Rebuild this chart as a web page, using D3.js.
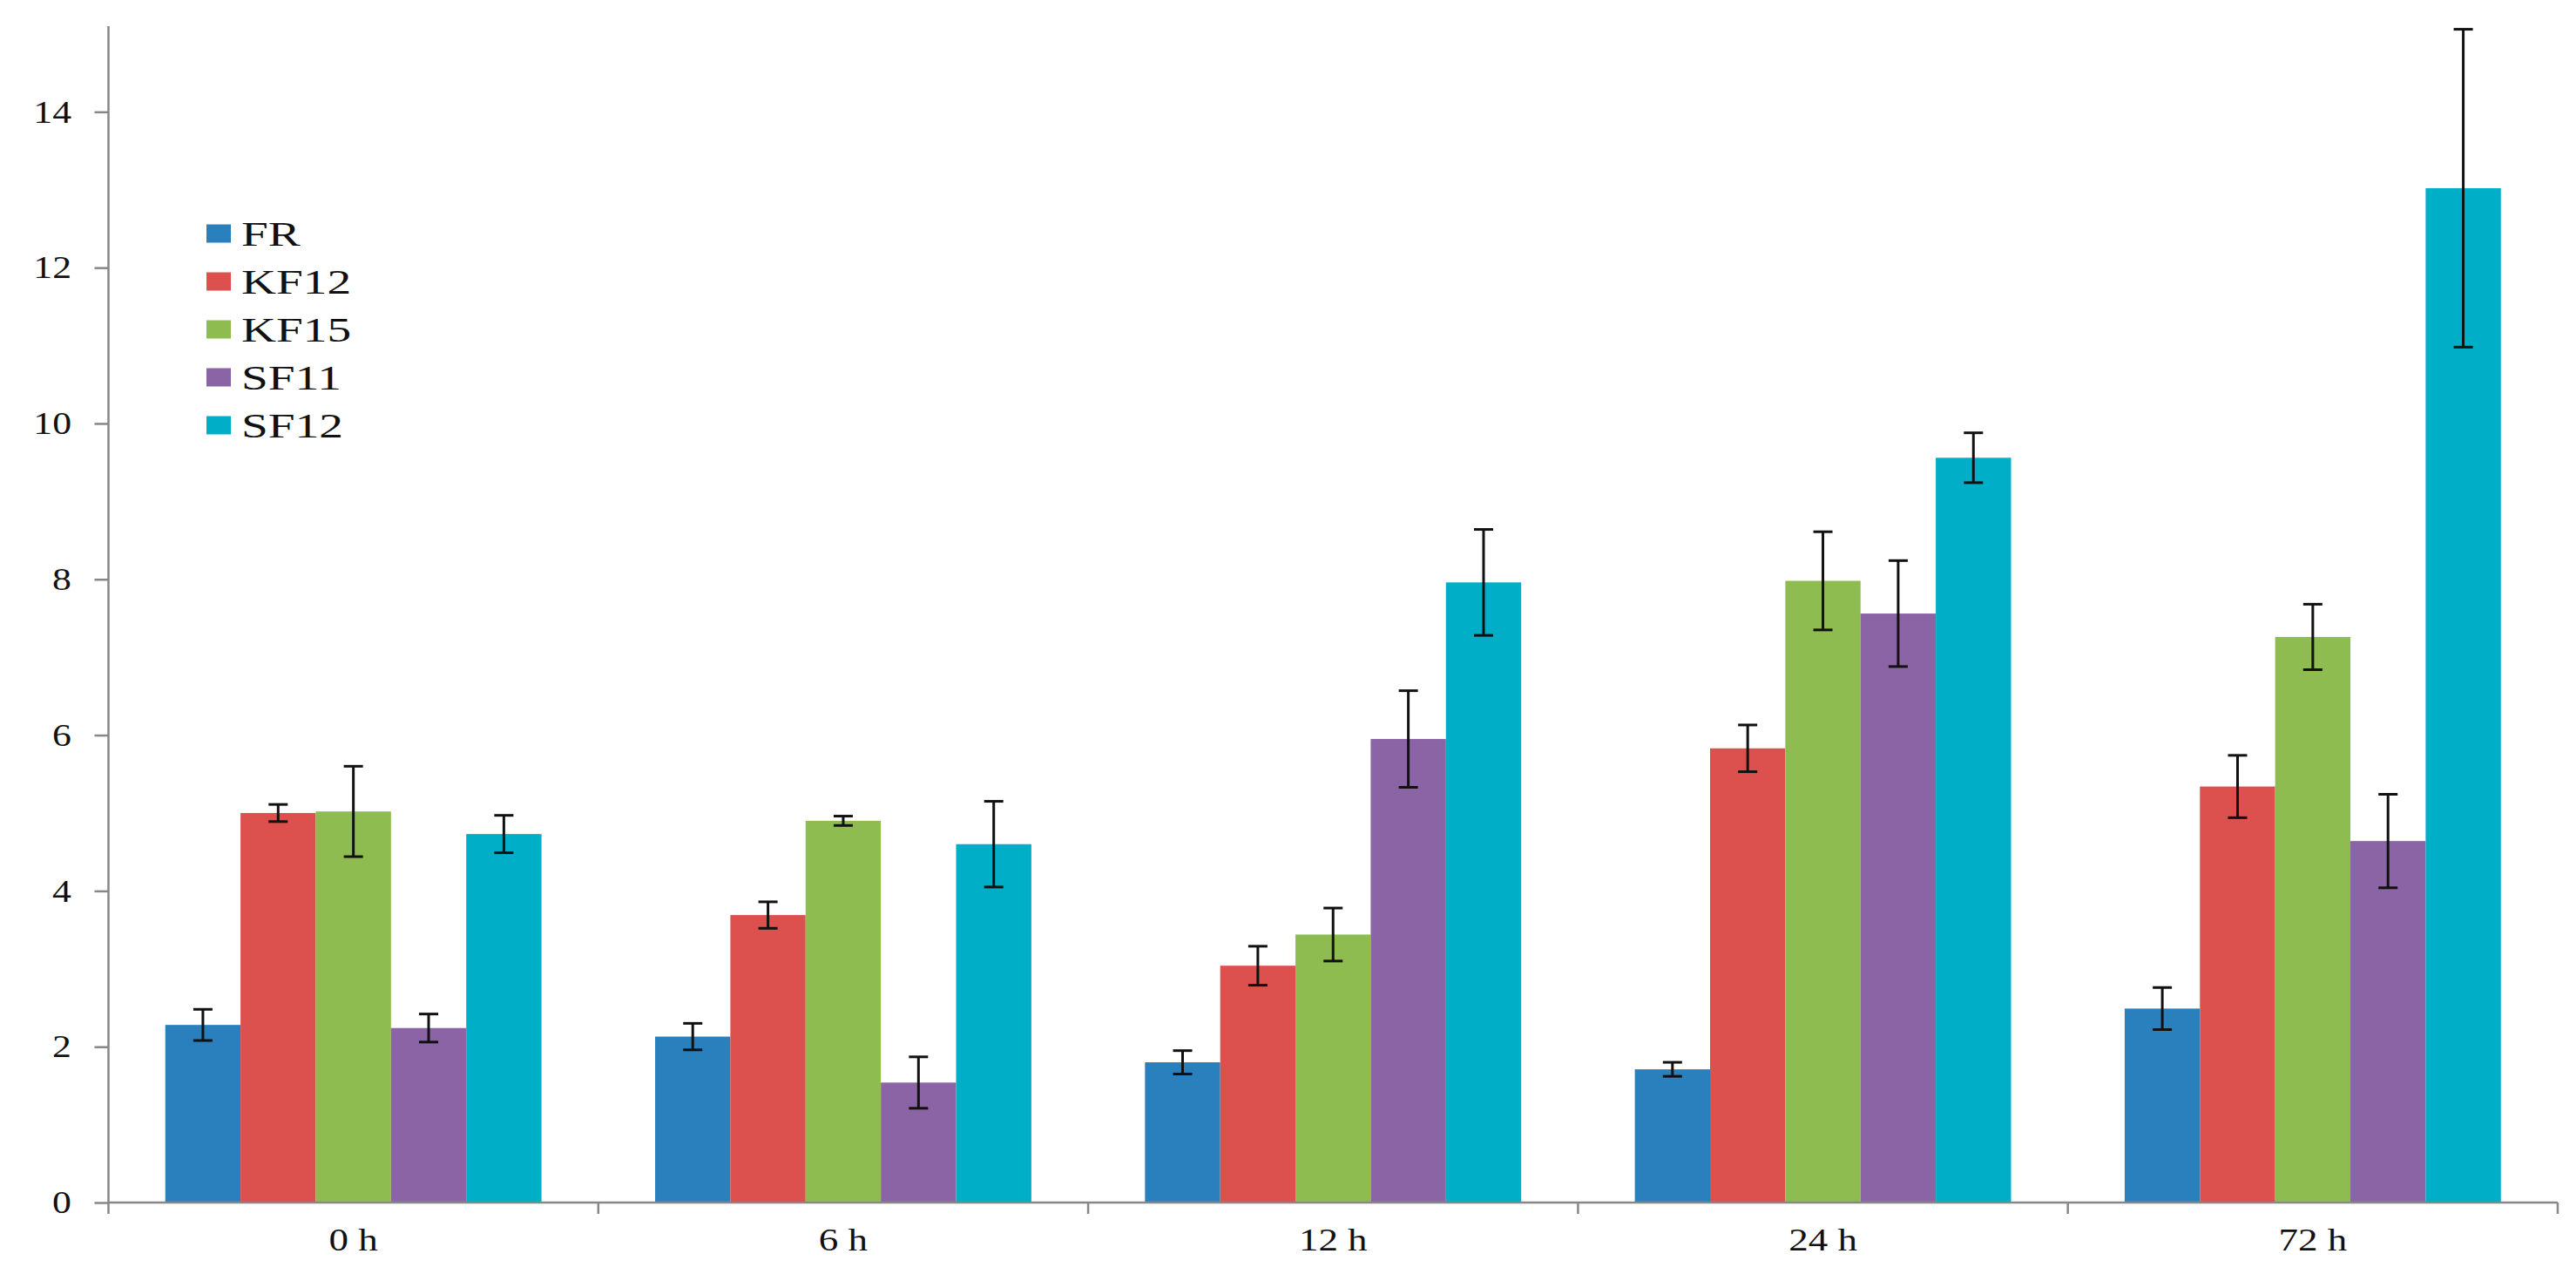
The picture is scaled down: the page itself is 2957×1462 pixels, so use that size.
<!DOCTYPE html>
<html><head><meta charset="utf-8">
<script src="https://cdn.jsdelivr.net/npm/d3@7"></script>
<style>html,body{margin:0;padding:0;background:#fff;}svg{display:block;}</style>
</head><body>
<script>
const categories = ["0 h", "6 h", "12 h", "24 h", "72 h"];
const seriesNames = ["FR", "KF12", "KF15", "SF11", "SF12"];
const seriesColors = ["#2a7fbd", "#dc504e", "#8fbc50", "#8a64a5", "#00aec7"];
const FR   = [2.28, 2.13, 1.80, 1.71, 2.49];
const KF12 = [5.00, 3.69, 3.04, 5.83, 5.34];
const KF15 = [5.02, 4.90, 3.44, 7.98, 7.26];
const SF11 = [2.24, 1.54, 5.95, 7.56, 4.64];
const SF12 = [4.73, 4.60, 7.96, 9.56, 13.02];
const FR_err   = [0.20, 0.17, 0.15, 0.09, 0.27];
const KF12_err = [0.11, 0.17, 0.25, 0.30, 0.40];
const KF15_err = [0.58, 0.06, 0.34, 0.63, 0.42];
const SF11_err = [0.18, 0.33, 0.62, 0.68, 0.60];
const SF12_err = [0.24, 0.55, 0.68, 0.32, 2.04];
const yTicks = [0, 2, 4, 6, 8, 10, 12, 14];

const values = [FR, KF12, KF15, SF11, SF12];
const errors = [FR_err, KF12_err, KF15_err, SF11_err, SF12_err];

const W = 2957, H = 1462;
const left = 124.5, right = 2936, zeroY = 1380, topY = 30;
const svg = d3.select("body").append("svg").attr("width", W).attr("height", H);

const x0 = d3.scaleBand().domain(categories).range([left, right]).padding(0);
const gap = x0.bandwidth() * 0.116;
const x1 = d3.scaleBand().domain(seriesNames).range([gap, x0.bandwidth() - gap]).padding(0);
const y = d3.scaleLinear().domain([0, 15.1]).range([zeroY, topY]);

const rows = [];
categories.forEach((c, ci) => seriesNames.forEach((s, si) => rows.push({c, s, si, v: values[si][ci], e: errors[si][ci]})));

// bars
svg.append("g").selectAll("rect").data(rows).join("rect")
  .attr("x", d => x0(d.c) + x1(d.s))
  .attr("y", d => y(d.v))
  .attr("width", x1.bandwidth())
  .attr("height", d => y(0) - y(d.v))
  .attr("fill", d => seriesColors[d.si]);

// error bars
const eg = svg.append("g").attr("stroke", "#111").attr("stroke-width", 3);
rows.forEach(d => {
  const cx = x0(d.c) + x1(d.s) + x1.bandwidth() / 2;
  eg.append("line").attr("x1", cx).attr("x2", cx).attr("y1", y(d.v + d.e)).attr("y2", y(d.v - d.e));
  eg.append("line").attr("x1", cx - 11).attr("x2", cx + 11).attr("y1", y(d.v + d.e)).attr("y2", y(d.v + d.e));
  eg.append("line").attr("x1", cx - 11).attr("x2", cx + 11).attr("y1", y(d.v - d.e)).attr("y2", y(d.v - d.e));
});

const axisColor = "#878787";
// y axis
const yAxis = svg.append("g").attr("transform", `translate(${left},0)`)
  .call(d3.axisLeft(y).tickValues(yTicks).tickSize(16).tickFormat(""));
yAxis.select(".domain").attr("stroke", axisColor).attr("stroke-width", 2.5).attr("d", `M0,${topY}V${zeroY}`);
yAxis.selectAll(".tick line").attr("stroke", axisColor).attr("stroke-width", 2.5);

svg.append("g").selectAll("text").data(yTicks).join("text")
  .attr("transform", d => `translate(82,${y(d)}) scale(1.25,1)`)
  .attr("text-anchor", "end").attr("dy", "0.35em")
  .attr("font-family", "Liberation Serif").attr("font-size", 35).attr("fill", "#111")
  .text(d => d);

// x axis
const xAxis = svg.append("g").attr("transform", `translate(0,${zeroY})`)
  .call(d3.axisBottom(x0).tickSize(0).tickFormat(""));
xAxis.select(".domain").attr("stroke", axisColor).attr("stroke-width", 2.5).attr("d", `M${left},0H${right}`);
const bounds = categories.map(c => x0(c)).concat([right]);
xAxis.append("g").selectAll("line").data(bounds).join("line")
  .attr("x1", d => d).attr("x2", d => d).attr("y1", 0).attr("y2", 13)
  .attr("stroke", axisColor).attr("stroke-width", 2.5);

svg.append("g").selectAll("text").data(categories).join("text")
  .attr("transform", d => `translate(${x0(d) + x0.bandwidth() / 2},1435) scale(1.25,1)`)
  .attr("text-anchor", "middle")
  .attr("font-family", "Liberation Serif").attr("font-size", 36).attr("fill", "#111")
  .text(d => d);

// legend
const lg = svg.append("g");
seriesNames.forEach((s, i) => {
  const cy = 268 + i * 55;
  lg.append("rect").attr("x", 237).attr("y", cy - 10.5).attr("width", 28).attr("height", 21).attr("fill", seriesColors[i]);
  lg.append("text").attr("transform", `translate(277,${cy}) scale(1.35,1)`)
    .attr("dy", "0.35em")
    .attr("font-family", "Liberation Serif").attr("font-size", 41).attr("fill", "#111")
    .text(s);
});
</script>
</body></html>
